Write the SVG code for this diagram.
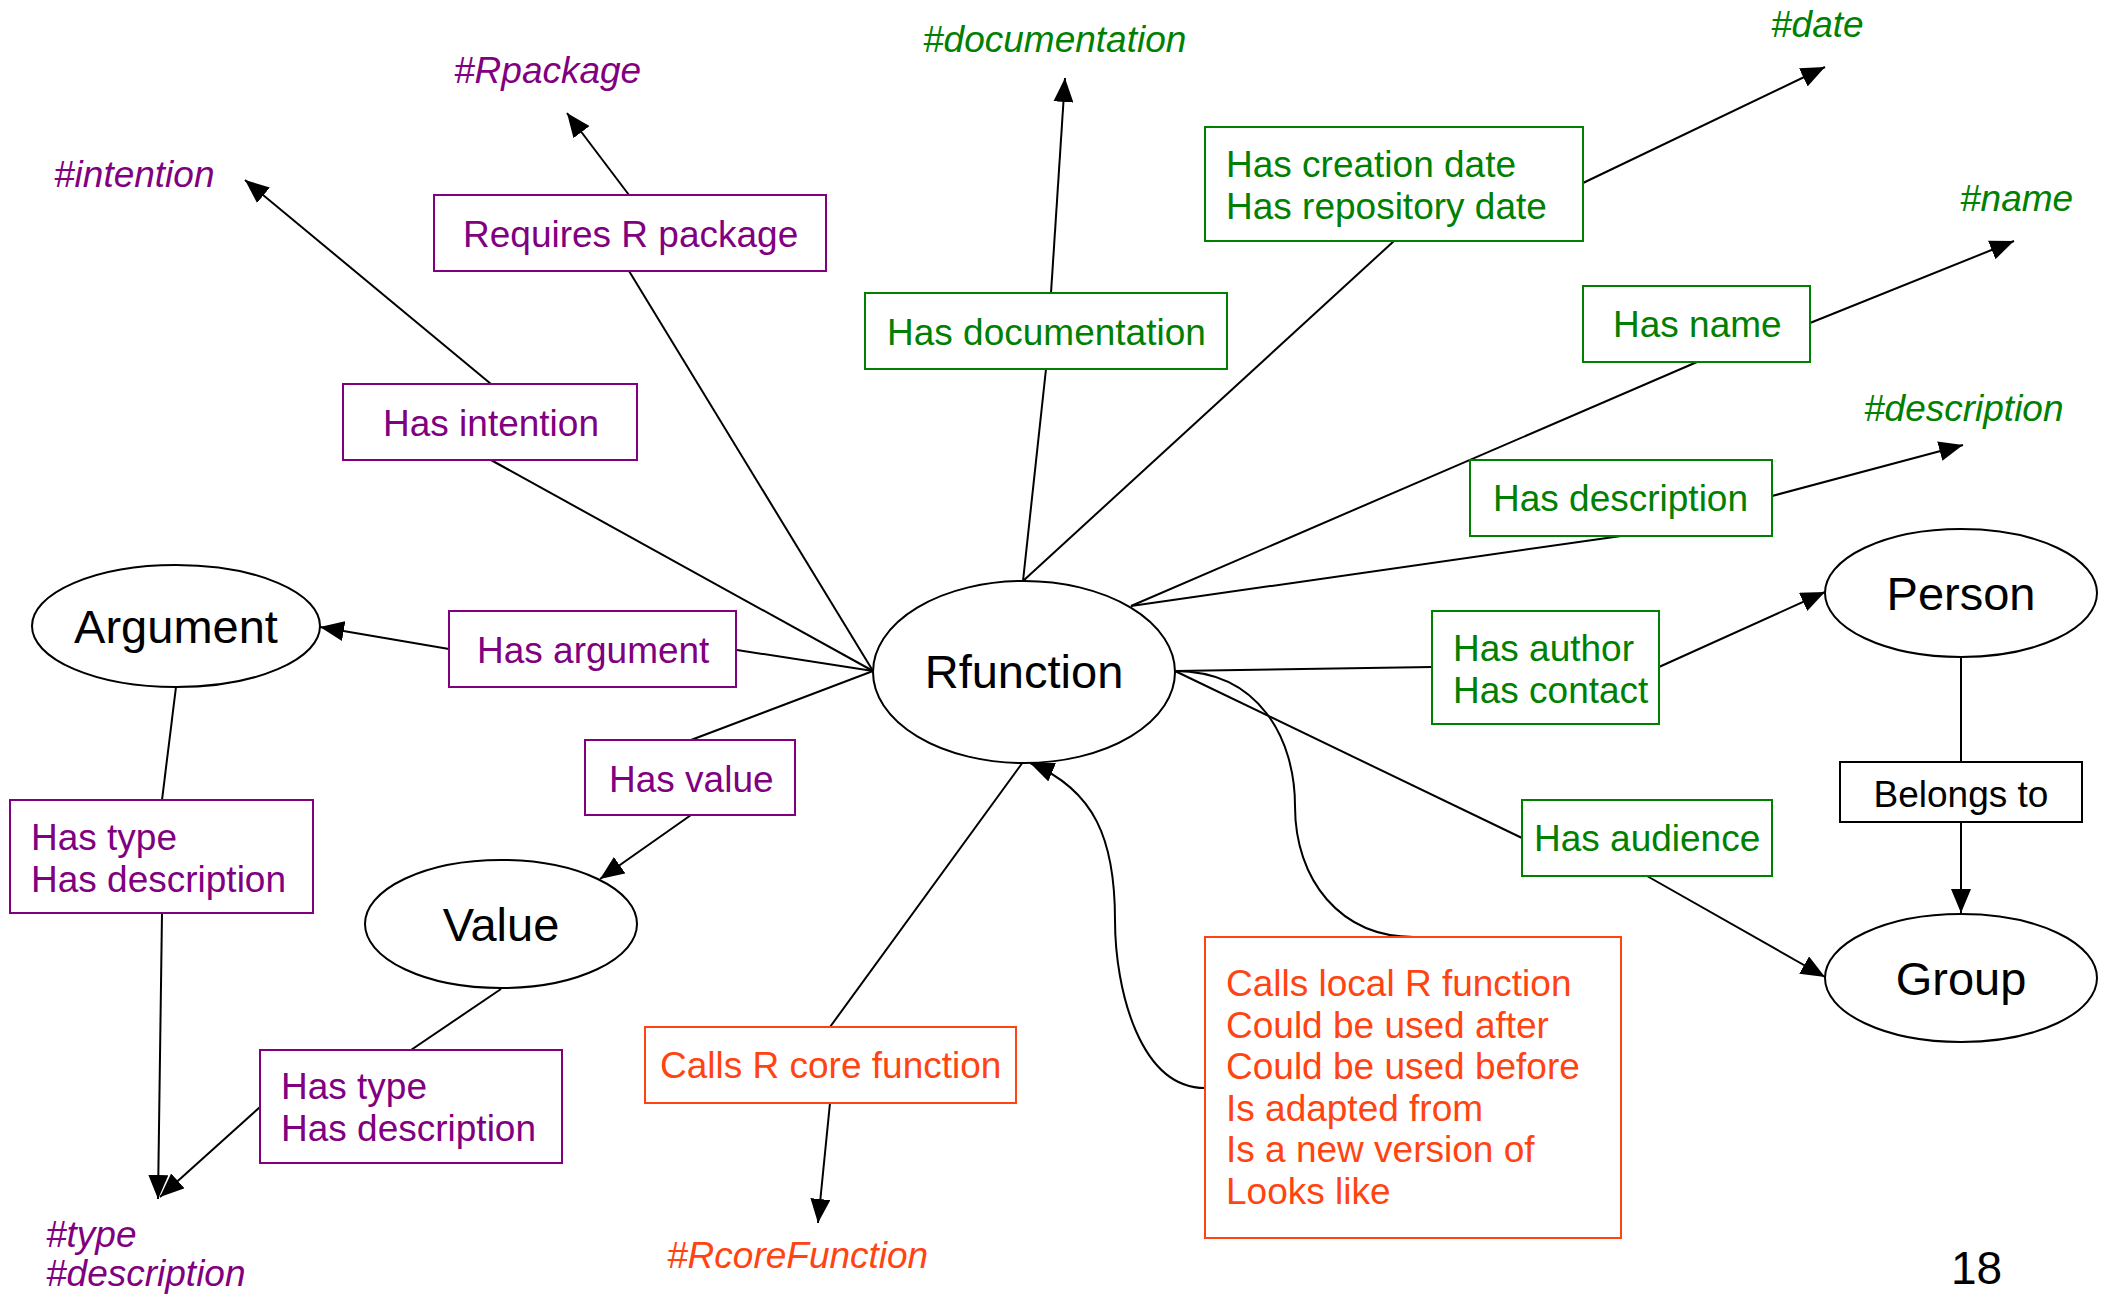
<svg xmlns="http://www.w3.org/2000/svg" width="2107" height="1294" viewBox="0 0 2107 1294">
<defs>
<marker id="ah" markerWidth="24" markerHeight="20" refX="24" refY="10" orient="auto" markerUnits="userSpaceOnUse"><path d="M0,0 L24,10 L0,20 z" fill="#000"/></marker>
<style>
text{font-family:"Liberation Sans",Arial,sans-serif;font-size:37px}
.big{font-size:47px;fill:#000;text-anchor:middle}
.hash{font-style:italic}
.p{fill:#800080}.g{fill:#008000}.o{fill:#FF4411}.k{fill:#000}
.bp{fill:#fff;stroke:#800080;stroke-width:2}
.bg{fill:#fff;stroke:#008000;stroke-width:2}
.bo{fill:#fff;stroke:#FF4411;stroke-width:2}
.bk{fill:#fff;stroke:#000;stroke-width:2}
.el{fill:#fff;stroke:#000;stroke-width:2}
.c{fill:none;stroke:#000;stroke-width:2}
.a{marker-end:url(#ah)}
</style>
</defs>
<rect width="2107" height="1294" fill="#fff"/>
<g id="connectors">
<line class="c" x1="629" y1="271" x2="873" y2="671"/>
<line class="c a" x1="629" y1="195" x2="567" y2="113"/>
<line class="c" x1="491" y1="460" x2="873" y2="671"/>
<line class="c a" x1="491" y1="384" x2="245" y2="180"/>
<line class="c" x1="1046" y1="369" x2="1023" y2="581"/>
<line class="c a" x1="1051" y1="293" x2="1065" y2="78"/>
<line class="c" x1="1394" y1="241" x2="1023" y2="581"/>
<line class="c a" x1="1583" y1="183" x2="1825" y2="67"/>
<line class="c" x1="1697" y1="362" x2="1131" y2="606"/>
<line class="c a" x1="1810" y1="323" x2="2014" y2="241"/>
<line class="c" x1="1621" y1="536" x2="1131" y2="606"/>
<line class="c a" x1="1772" y1="496" x2="1963" y2="445"/>
<line class="c" x1="737" y1="650" x2="873" y2="671"/>
<line class="c a" x1="449" y1="649" x2="320" y2="627"/>
<line class="c" x1="691" y1="740" x2="873" y2="671"/>
<line class="c a" x1="691" y1="815" x2="600" y2="879"/>
<line class="c" x1="176" y1="687" x2="162" y2="800"/>
<line class="c a" x1="162" y1="913" x2="158" y2="1199"/>
<line class="c" x1="501" y1="989" x2="411" y2="1050"/>
<line class="c a" x1="260" y1="1107" x2="160" y2="1197"/>
<line class="c" x1="1023" y1="762" x2="830" y2="1027"/>
<line class="c a" x1="830" y1="1103" x2="818" y2="1223"/>
<line class="c" x1="1175" y1="671" x2="1432" y2="667"/>
<line class="c a" x1="1659" y1="667" x2="1825" y2="592"/>
<line class="c" x1="1175" y1="671" x2="1522" y2="838"/>
<line class="c a" x1="1647" y1="876" x2="1825" y2="977"/>
<line class="c" x1="1961" y1="657" x2="1961" y2="762"/>
<line class="c a" x1="1961" y1="822" x2="1961" y2="913"/>
<path class="c" d="M1175,671 C1260,671 1295,740 1295,806 C1295,880 1340,937 1414,937"/>
<path class="c a" d="M1205,1088 C1140,1088 1115,990 1115,920 C1115,840 1095,790 1030,763"/>
</g>
<g id="rfunction"><ellipse class="el" cx="1024" cy="672" rx="151" ry="91"/><text class="big" x="1024" y="688">Rfunction</text></g>
<g id="argument"><ellipse class="el" cx="176" cy="626" rx="144" ry="61"/><text class="big" x="176" y="643">Argument</text></g>
<g id="value"><ellipse class="el" cx="501" cy="924" rx="136" ry="64"/><text class="big" x="501" y="941">Value</text></g>
<g id="person"><ellipse class="el" cx="1961" cy="593" rx="136" ry="64"/><text class="big" x="1961" y="610">Person</text></g>
<g id="group"><ellipse class="el" cx="1961" cy="978" rx="136" ry="64"/><text class="big" x="1961" y="995">Group</text></g>
<g id="requires"><rect class="bp" x="434" y="195" width="392" height="76"/><text class="p" x="463" y="247">Requires R package</text></g>
<g id="intention"><rect class="bp" x="343" y="384" width="294" height="76"/><text class="p" x="383" y="436">Has intention</text></g>
<g id="hasargument"><rect class="bp" x="449" y="611" width="287" height="76"/><text class="p" x="477" y="663">Has argument</text></g>
<g id="hasvalue"><rect class="bp" x="585" y="740" width="210" height="75"/><text class="p" x="609" y="792">Has value</text></g>
<g id="argtype"><rect class="bp" x="10" y="800" width="303" height="113"/><text class="p" x="31" y="850">Has type</text><text class="p" x="31" y="892">Has description</text></g>
<g id="valtype"><rect class="bp" x="260" y="1050" width="302" height="113"/><text class="p" x="281" y="1099">Has type</text><text class="p" x="281" y="1141">Has description</text></g>
<g id="hasdoc"><rect class="bg" x="865" y="293" width="362" height="76"/><text class="g" x="887" y="345">Has documentation</text></g>
<g id="hasdate"><rect class="bg" x="1205" y="127" width="378" height="114"/><text class="g" x="1226" y="177">Has creation date</text><text class="g" x="1226" y="219">Has repository date</text></g>
<g id="hasname"><rect class="bg" x="1583" y="286" width="227" height="76"/><text class="g" x="1613" y="337">Has name</text></g>
<g id="hasdesc"><rect class="bg" x="1470" y="460" width="302" height="76"/><text class="g" x="1493" y="511">Has description</text></g>
<g id="hasauthor"><rect class="bg" x="1432" y="611" width="227" height="113"/><text class="g" x="1453" y="661">Has author</text><text class="g" x="1453" y="703">Has contact</text></g>
<g id="hasaudience"><rect class="bg" x="1522" y="800" width="250" height="76"/><text class="g" x="1534" y="851">Has audience</text></g>
<g id="belongs"><rect class="bk" x="1840" y="762" width="242" height="60"/><text class="k" x="1961" y="807" text-anchor="middle">Belongs to</text></g>
<g id="callscore"><rect class="bo" x="645" y="1027" width="371" height="76"/><text class="o" x="660" y="1078">Calls R core function</text></g>
<g id="callslocal"><rect class="bo" x="1205" y="937" width="416" height="301"/>
<text class="o" x="1226" y="996">Calls local R function</text>
<text class="o" x="1226" y="1038">Could be used after</text>
<text class="o" x="1226" y="1079">Could be used before</text>
<text class="o" x="1226" y="1121">Is adapted from</text>
<text class="o" x="1226" y="1162">Is a new version of</text>
<text class="o" x="1226" y="1204">Looks like</text></g>
<g id="t-rpackage"><text class="hash p" x="454" y="83">#Rpackage</text></g>
<g id="t-intention"><text class="hash p" x="54" y="187">#intention</text></g>
<g id="t-documentation"><text class="hash g" x="923" y="52">#documentation</text></g>
<g id="t-date"><text class="hash g" x="1771" y="37">#date</text></g>
<g id="t-name"><text class="hash g" x="1960" y="211">#name</text></g>
<g id="t-description"><text class="hash g" x="1864" y="421">#description</text></g>
<g id="t-type"><text class="hash p" x="46" y="1247">#type</text><text class="hash p" x="46" y="1286">#description</text></g>
<g id="t-rcore"><text class="hash o" x="667" y="1268">#RcoreFunction</text></g>
<text class="k" x="1951" y="1284" style="font-size:46px">18</text>
</svg>
